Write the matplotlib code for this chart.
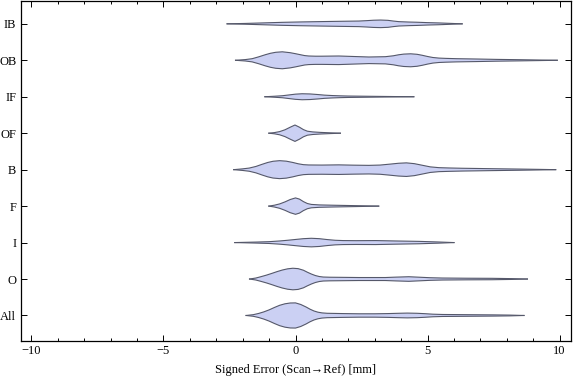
import numpy as np
import matplotlib
matplotlib.use("Agg")
import matplotlib.pyplot as plt
from matplotlib.ticker import MultipleLocator

plt.rcParams["font.family"] = ["Liberation Serif", "DejaVu Serif"]

# categories, bottom to top
categories = ["All", "O", "I", "F", "B", "OF", "IF", "OB", "IB"]

# violin outlines: signed error [mm] and half-width (density, px-ish)
x_all = [-1.87, -1.6, -1.4, -1.2, -1.0, -0.8, -0.6, -0.4, -0.2, 0.0, 0.2, 0.4, 0.55, 0.7, 0.85, 1.0, 1.2,
         1.8, 2.4, 3.0, 3.5, 3.9, 4.23, 4.6, 4.9, 5.2, 5.56, 6.5, 7.5, 8.1, 8.65]
d_all = [0, 0.8, 2.0, 3.6, 5.6, 8.0, 10.2, 11.7, 12.5, 12.6, 11.0, 8.5, 6.3, 4.5, 3.3, 2.6, 2.2,
         1.9, 1.7, 1.7, 1.9, 2.2, 2.4, 2.2, 1.8, 1.3, 1.0, 0.8, 0.6, 0.4, 0]

x_o = [-1.74, -1.5, -1.3, -1.1, -0.9, -0.7, -0.5, -0.3, -0.1, 0.1, 0.3, 0.45, 0.6, 0.75, 0.9, 1.05, 1.3,
       1.7, 2.4, 3.4, 3.8, 4.29, 4.7, 5.1, 5.56, 6.5, 7.45, 8.2, 8.78]
d_o = [0, 1.0, 2.4, 3.9, 5.6, 7.4, 9.0, 10.2, 10.8, 10.4, 8.8, 6.8, 5.0, 3.5, 2.5, 2.0, 1.8,
       1.7, 1.5, 1.5, 1.9, 2.3, 1.8, 1.3, 1.0, 0.8, 0.7, 0.4, 0]

x_i = [-2.30, -1.5, -1.0, -0.6, -0.3, 0.0, 0.3, 0.6, 0.9, 1.2, 1.5, 1.8, 2.3, 3.03, 3.8, 4.67, 5.4, 6.0]
d_i = [0, 0.5, 0.9, 1.6, 2.3, 3.1, 3.9, 4.3, 3.9, 3.0, 2.3, 2.0, 1.9, 2.0, 1.6, 1.2, 0.6, 0]

x_f = [-1.01, -0.8, -0.6, -0.4, -0.2, 0.0, 0.15, 0.3, 0.45, 0.6, 0.9, 1.4, 2.0, 2.6, 3.15]
d_f = [0, 0.9, 2.2, 4.2, 6.6, 8.2, 7.0, 4.5, 2.6, 1.7, 1.2, 0.9, 0.6, 0.3, 0]

x_b = [-2.34, -2.0, -1.75, -1.5, -1.26, -1.05, -0.85, -0.6, -0.35, -0.1, 0.1, 0.3, 0.5, 1.0, 1.64, 2.2,
       2.78, 3.2, 3.6, 3.9, 4.2, 4.5, 4.8, 5.1, 5.43, 5.8, 6.3, 6.82, 7.6, 8.45, 9.2, 9.85]
d_b = [0, 0.8, 1.6, 3.2, 5.4, 7.2, 8.4, 9.0, 8.5, 7.2, 5.9, 5.0, 4.7, 4.6, 4.8, 4.5,
       4.3, 4.6, 5.6, 6.4, 6.8, 6.0, 4.4, 2.8, 2.0, 1.7, 1.4, 1.2, 0.9, 0.6, 0.3, 0]

x_of = [-1.01, -0.8, -0.6, -0.4, -0.2, -0.02, 0.15, 0.3, 0.45, 0.65, 0.95, 1.3, 1.70]
d_of = [0, 0.6, 1.6, 3.4, 6.0, 8.2, 6.0, 3.6, 2.0, 1.3, 0.8, 0.4, 0]

x_if = [-1.16, -0.8, -0.5, -0.25, 0.0, 0.25, 0.55, 0.85, 1.1, 1.39, 1.7, 2.0, 3.0, 4.48]
d_if = [0, 0.5, 1.0, 1.8, 2.6, 3.0, 2.8, 2.2, 1.6, 1.2, 0.9, 0.7, 0.4, 0]

x_ob = [-2.27, -1.9, -1.64, -1.4, -1.14, -0.95, -0.75, -0.5, -0.2, 0.0, 0.2, 0.35, 0.5, 0.75, 1.0, 1.64,
        2.2, 2.78, 3.4, 3.7, 3.9, 4.1, 4.36, 4.6, 4.8, 5.0, 5.2, 5.43, 5.7, 6.1, 6.82, 7.6, 8.45, 9.2, 9.91]
d_ob = [0, 0.7, 1.6, 3.4, 5.6, 7.0, 8.0, 8.5, 7.6, 6.6, 5.5, 4.7, 4.3, 4.1, 4.1, 4.3,
        3.8, 3.3, 3.6, 4.5, 5.5, 6.2, 6.5, 6.0, 5.0, 3.8, 2.8, 2.2, 1.9, 1.6, 1.3, 0.9, 0.6, 0.3, 0]

x_ib = [-2.59, -1.9, -1.39, -0.5, 0.2, 0.88, 1.6, 2.4, 2.7, 2.95, 3.22, 3.5, 3.7, 3.91, 4.3, 4.6, 5.0, 5.43, 6.31]
d_ib = [0, 0.4, 0.8, 1.5, 1.9, 2.2, 2.5, 2.8, 3.2, 3.6, 3.8, 3.5, 2.8, 2.2, 1.8, 1.6, 1.2, 0.9, 0]

profiles = [(x_all, d_all), (x_o, d_o), (x_i, d_i), (x_f, d_f), (x_b, d_b),
            (x_of, d_of), (x_if, d_if), (x_ob, d_ob), (x_ib, d_ib)]

fill_color = "#cbd0f3"
edge_color = "#55586a"
scale = 1 / 36.5  # density -> category units

fig = plt.figure(figsize=(5.76, 3.81), dpi=100)
ax = fig.add_axes([20.5 / 576, 1 - 341 / 381, 550 / 576, 340.5 / 381])

for k, (xs, ds) in enumerate(profiles):
    pos = k + 1
    xs = np.array(xs)
    w = np.array(ds) * scale
    ax.fill_between(xs, pos - w, pos + w, facecolor=fill_color, edgecolor="none", zorder=2)
    ax.plot(xs, pos + w, color=edge_color, lw=0.8, zorder=3)
    ax.plot(xs, pos - w, color=edge_color, lw=0.8, zorder=3)

ax.set_xlim(-10.41, 10.41)
ax.set_ylim(0.30, 9.64)

ax.set_yticks(range(1, len(categories) + 1))
ax.set_yticklabels(categories)
ax.set_xticks([-10, -5, 0, 5, 10])
ax.xaxis.set_minor_locator(MultipleLocator(1))

ax.tick_params(axis="both", which="both", direction="in", top=True, right=True,
               labelsize=9, colors="black", width=0.7, pad=3)
ax.tick_params(axis="x", which="major", length=4)
ax.tick_params(axis="x", which="minor", length=2.3)
ax.tick_params(axis="y", which="major", length=4)
for s in ax.spines.values():
    s.set_linewidth(0.9)

ax.set_xlabel("Signed Error (Scan\u2192Ref) [mm]", fontsize=9, labelpad=5)

fig.savefig("out.png", dpi=100)
